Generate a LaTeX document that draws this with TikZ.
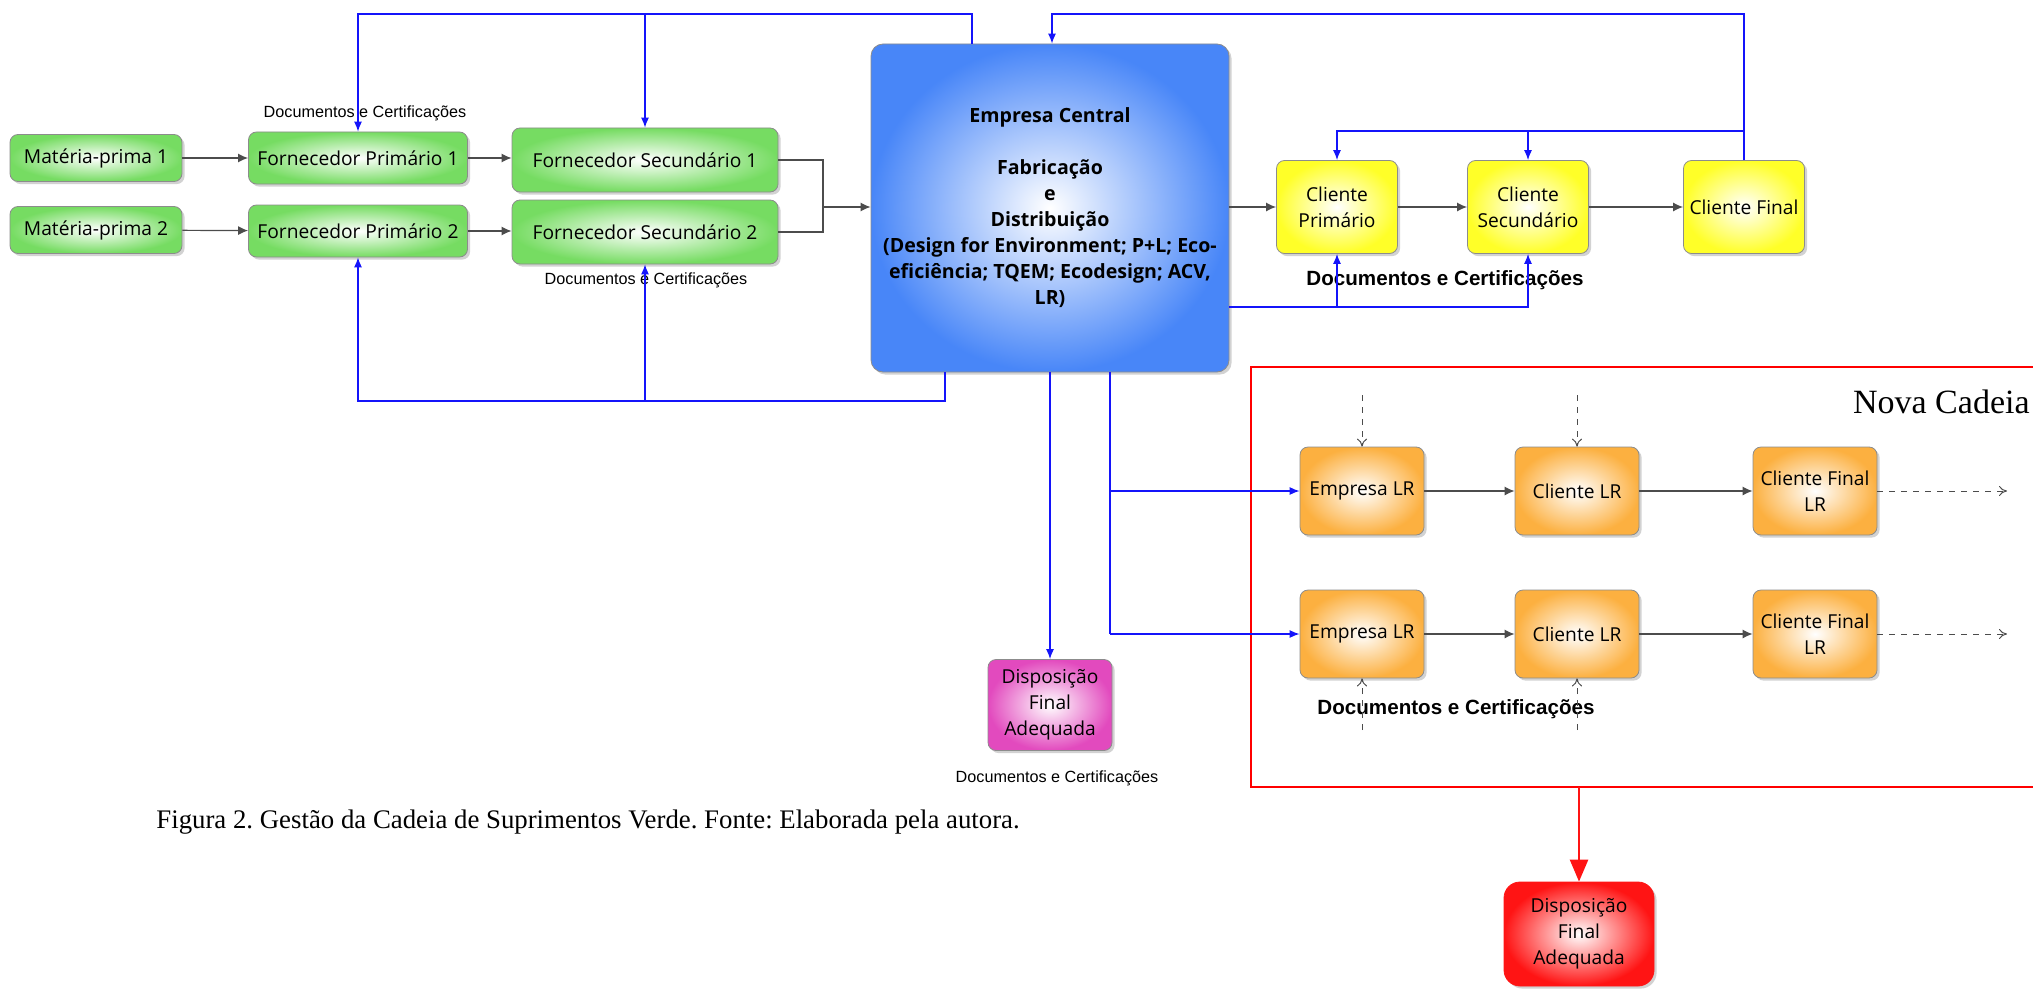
\documentclass[tikz,border=0pt]{standalone}
\usepackage{fontspec}
\setmainfont{Liberation Serif}
\newfontfamily\boxfont{Open Sans}
\newfontfamily\docfont{Liberation Sans}
\usetikzlibrary{arrows.meta,shadows}
\definecolor{boxgreen}{RGB}{118,220,98}
\definecolor{boxblue}{RGB}{72,134,248}
\definecolor{boxyellow}{RGB}{255,255,40}
\definecolor{boxorange}{RGB}{252,176,64}
\definecolor{boxpink}{RGB}{226,74,190}
\definecolor{boxred}{RGB}{255,20,20}
\definecolor{lineblue}{RGB}{20,20,250}
\frenchspacing

\begin{document}
\begin{tikzpicture}[x=0.5pt,y=-0.5pt,
	box/.style={draw=black!45, rounded corners=4pt, shading=radial, inner color=white, align=center, inner sep=1pt,
		font=\boxfont\fontsize{9.6}{13}\selectfont,
		drop shadow={shadow xshift=1.3pt,shadow yshift=-1.3pt,fill=black!35}},
	mpbox/.style={box, outer color=boxgreen, minimum width=86pt, minimum height=23.5pt},
	fpbox/.style={box, outer color=boxgreen, minimum width=109.5pt, minimum height=26pt},
	fsbox/.style={box, outer color=boxgreen, minimum width=133pt, minimum height=32pt},
	clbox/.style={box, outer color=boxyellow, minimum width=60.5pt, minimum height=46.5pt},
	lrbox/.style={box, outer color=boxorange, minimum width=62pt, minimum height=44pt},
	docsmall/.style={font=\docfont\fontsize{8.1}{9.7}\selectfont},
	docbold/.style={font=\docfont\bfseries\fontsize{10.3}{12}\selectfont},
	gline/.style={draw=black!70, line width=0.6pt},
	garrow/.style={gline, -{Latex[length=5pt,width=4.5pt]}},
	bline/.style={draw=lineblue, line width=0.6pt},
	barrow/.style={bline, -{Latex[length=5pt,width=4pt]}},
	darrow/.style={draw=black!70, line width=0.5pt, dashed, -{To[length=4pt,width=5pt]}},
	]
	\useasboundingbox (0,0) rectangle (2033,990);

	\node[mpbox] (mp1) at (96,158) {Matéria-prima 1};
	\node[mpbox] (mp2) at (96,230) {Matéria-prima 2};
	\node[fpbox] (fp1) at (358,158) {Fornecedor Primário 1};
	\node[fpbox] (fp2) at (358,231) {Fornecedor Primário 2};
	\node[fsbox] (fs1) at (645,160) {Fornecedor Secundário 1};
	\node[fsbox] (fs2) at (645,232) {Fornecedor Secundário 2};
	\node[box, outer color=boxblue, rounded corners=6pt, minimum width=179pt, minimum height=164pt,
		font=\boxfont\bfseries\fontsize{9.8}{13}\selectfont] (ec) at (1050,208)
		{Empresa Central\\[13pt]Fabricação\\e\\Distribuição\\(Design for Environment; P+L; Eco-\\eficiência; TQEM; Ecodesign; ACV,\\LR)};
	\node[clbox] (cp) at (1337,207) {Cliente\\Primário};
	\node[clbox] (cs) at (1528,207) {Cliente\\Secundário};
	\node[clbox] (cf) at (1744,207) {Cliente Final};

	\node[lrbox] (el1) at (1362,491) {Empresa LR};
	\node[lrbox] (cl1) at (1577,491) {Cliente LR};
	\node[lrbox] (cfl1) at (1815,491) {Cliente Final\\LR};
	\node[lrbox] (el2) at (1362,634) {Empresa LR};
	\node[lrbox] (cl2) at (1577,634) {Cliente LR};
	\node[lrbox] (cfl2) at (1815,634) {Cliente Final\\LR};

	\node[box, outer color=boxpink, minimum width=62pt, minimum height=45.5pt] (dfa) at (1050,705) {Disposição\\Final\\Adequada};
	\node[box, outer color=boxred, draw=boxred, rounded corners=8pt, minimum width=75pt, minimum height=52pt] (dfr) at (1579,934) {Disposição\\Final\\Adequada};

	\node[docsmall] (doc1) at (365,113) {Documentos e Certificações};
	\node[docsmall] (doc2) at (646,280) {Documentos e Certificações};
	\node[docbold] (doc3) at (1445,280) {Documentos e Certificações};
	\node[docbold] (doc4) at (1456,709) {Documentos e Certificações};
	\node[docsmall] (doc5) at (1057,778) {Documentos e Certificações};
	\node[anchor=east, inner sep=0pt, font=\fontsize{17}{20}\selectfont] (nova) at (2030,402) {Nova Cadeia};
	\node[anchor=west, inner sep=0pt, font=\fontsize{13.4}{15}\selectfont] (cap) at (156,822) {Figura 2. Gestão da Cadeia de Suprimentos Verde. Fonte: Elaborada pela autora.};

	\coordinate (join) at (823,207);
	\coordinate (t1) at (972,14);
	\coordinate (t2) at (1052,14);
	\coordinate (t3) at (1744,131);
	\coordinate (b1) at (1530,307);
	\coordinate (b2) at (945,401);
	\coordinate (b4) at (1110,491);
	\coordinate (i1) at (1361,395);
	\coordinate (i2) at (1361,730);
	\coordinate (o1) at (2007,491);
	\coordinate (fr1) at (1251,367);
	\coordinate (fr2) at (2045,787);

	\draw[red, line width=1pt] (fr1) rectangle (fr2);

	\draw[garrow] (mp1) -- (fp1);
	\draw[garrow] (mp2) -- (fp2);
	\draw[garrow] (fp1.east) -- (fp1.east -| fs1.west);
	\draw[garrow] (fp2.east) -- (fp2.east -| fs2.west);
	\draw[gline] (fs1.east) -| (join);
	\draw[gline] (fs2.east) -| (join);
	\draw[garrow] (join) -- (join -| ec.west);
	\draw[garrow] (ec.east |- cp) -- (cp);
	\draw[garrow] (cp) -- (cs);
	\draw[garrow] (cs) -- (cf);

	\draw[barrow] (t1 |- ec.north) -- (t1) -| (fp1.north);
	\draw[barrow] (fs1.north |- t1) -- (fs1.north);
	\draw[barrow] (cf.north) |- (t2) -- (t2 |- ec.north);
	\draw[barrow] (cf.north |- t3) -| (cp.north);
	\draw[barrow] (cs.north |- t3) -- (cs.north);
	\draw[barrow] (ec.east |- b1) -| (cs.south);
	\draw[barrow] (cp.south |- b1) -- (cp.south);
	\draw[barrow] (b2 |- ec.south) -- (b2) -| (fp2.south);
	\draw[barrow] (fs2.south |- b2) -- (fs2.south);
	\draw[barrow] (dfa.north |- ec.south) -- (dfa.north);
	\draw[bline] (b4 |- ec.south) -- (b4 |- el2);
	\draw[barrow] (b4) -- (el1.west);
	\draw[barrow] (b4 |- el2) -- (el2.west);

	\draw[garrow] (el1) -- (cl1);
	\draw[garrow] (cl1) -- (cfl1);
	\draw[garrow] (el2) -- (cl2);
	\draw[garrow] (cl2) -- (cfl2);
	\draw[darrow] (cfl1) -- (o1);
	\draw[darrow] (cfl2) -- (o1 |- cfl2);
	\draw[darrow] (el1.north |- i1) -- (el1.north);
	\draw[darrow] (cl1.north |- i1) -- (cl1.north);
	\draw[darrow] (el2.south |- i2) -- (el2.south);
	\draw[darrow] (cl2.south |- i2) -- (cl2.south);

	\draw[boxred, line width=1.3pt, -{Triangle[length=11pt,width=9pt]}] (dfr.north |- fr2) -- (dfr.north);
\end{tikzpicture}
\end{document}
